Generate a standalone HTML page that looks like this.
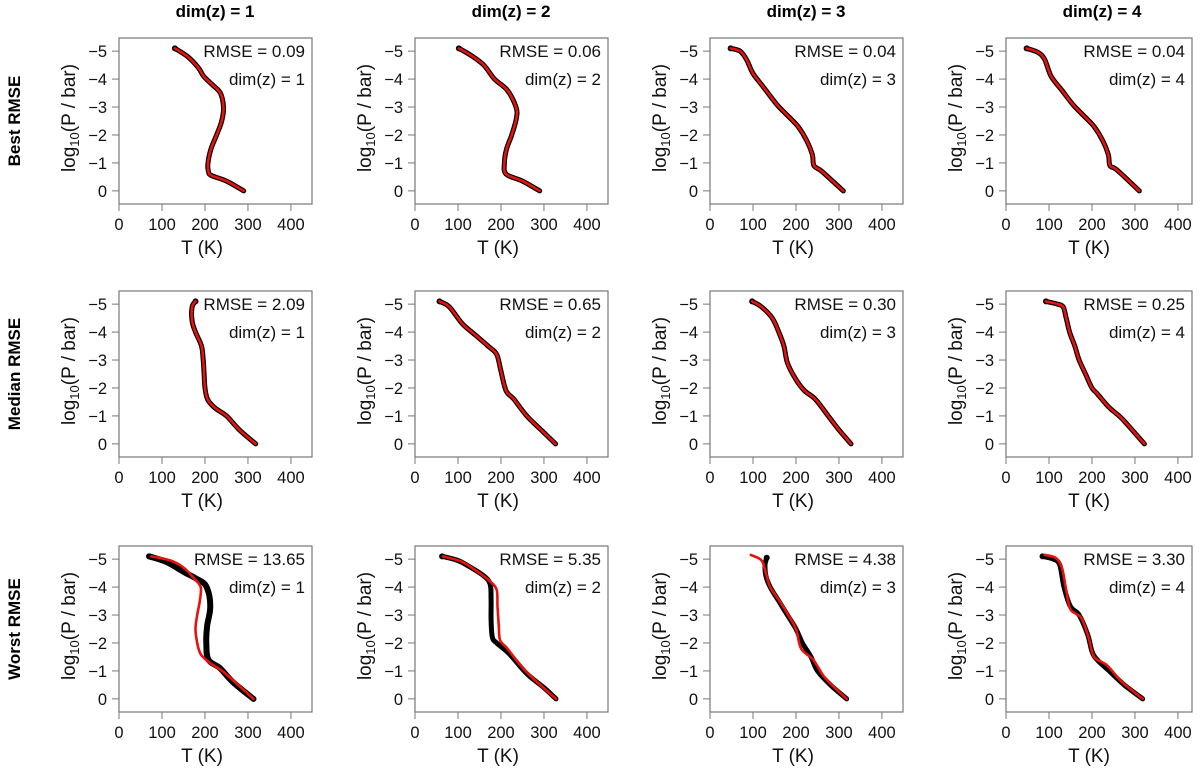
<!DOCTYPE html>
<html><head><meta charset="utf-8"><style>
body{margin:0;background:#fff;}
svg{display:block;font-family:"Liberation Sans",Arial,sans-serif;}
</style></head><body>
<svg id="c" width="1200" height="768" viewBox="0 0 1200 768"></svg>
<script>
const colTitles=["dim(z) = 1","dim(z) = 2","dim(z) = 3","dim(z) = 4"];
const rowTitles=["Best RMSE","Median RMSE","Worst RMSE"];
const rmseVals=[["0.09","0.06","0.04","0.04"],["2.09","0.65","0.30","0.25"],["13.65","5.35","4.38","3.30"]];
const xTicks=[0,100,200,300,400];
const yTicks=[-5,-4,-3,-2,-1,0];
// true profiles (black) as [T, log10 P]
const truthProfiles=[
[[[130,-5.1],[160,-4.8],[185,-4.4],[197,-4.1],[217,-3.8],[236,-3.5],[243,-3.0],[239,-2.5],[227,-2.0],[214,-1.5],[207,-1.0],[208,-0.7],[215,-0.55],[250,-0.35],[290,0]],
 [[102,-5.1],[130,-4.85],[160,-4.5],[185,-4.0],[215,-3.6],[235,-3.0],[236,-2.6],[225,-2.0],[213,-1.5],[208,-1.0],[212,-0.6],[250,-0.35],[290,0]],
 [[48,-5.1],[70,-5.0],[85,-4.7],[100,-4.2],[125,-3.7],[155,-3.1],[180,-2.7],[205,-2.3],[225,-1.8],[238,-1.3],[242,-0.9],[260,-0.7],[310,0]],
 [[48,-5.1],[75,-4.95],[90,-4.7],[105,-4.1],[130,-3.6],[155,-3.1],[180,-2.7],[205,-2.3],[225,-1.8],[238,-1.3],[242,-0.9],[258,-0.75],[310,0]]],
[[[178,-5.1],[170,-4.9],[170,-4.4],[178,-4.0],[192,-3.5],[196,-3.0],[198,-2.5],[200,-2.0],[206,-1.6],[222,-1.3],[250,-1.0],[280,-0.5],[318,0]],
 [[57,-5.1],[80,-4.9],[110,-4.3],[140,-3.9],[170,-3.5],[190,-3.2],[200,-2.6],[212,-1.9],[230,-1.6],[260,-1.0],[300,-0.4],[327,0]],
 [[98,-5.1],[120,-4.9],[145,-4.5],[160,-4.0],[172,-3.5],[180,-2.9],[200,-2.3],[220,-1.9],[245,-1.6],[275,-1.0],[300,-0.5],[328,0]],
 [[93,-5.1],[120,-5.0],[133,-4.9],[140,-4.5],[148,-4.0],[160,-3.5],[170,-3.0],[185,-2.5],[200,-2.0],[212,-1.8],[240,-1.3],[270,-0.9],[322,0]]],
[[[70,-5.1],[110,-4.9],[150,-4.55],[180,-4.3],[200,-4.1],[210,-3.7],[212,-3.2],[205,-2.6],[203,-2.0],[208,-1.4],[235,-1.1],[265,-0.6],[313,0]],
 [[63,-5.1],[100,-4.95],[130,-4.7],[160,-4.4],[175,-4.1],[177,-3.5],[177,-2.8],[180,-2.2],[190,-2.0],[220,-1.6],[260,-0.9],[300,-0.4],[328,0]],
 [[132,-5.05],[128,-4.8],[130,-4.4],[140,-4.0],[160,-3.5],[180,-3.0],[200,-2.5],[215,-2.0],[235,-1.5],[250,-1.0],[280,-0.5],[318,0]],
 [[85,-5.1],[110,-5.0],[125,-4.8],[135,-4.0],[150,-3.3],[170,-3.0],[190,-2.3],[200,-1.7],[212,-1.4],[240,-1.0],[275,-0.5],[318,0]]]
];
// predicted profiles (red); null = same as truth
const predProfiles=[
[null,null,null,null],
[null,null,null,null],
[[[75,-5.1],[120,-4.95],[150,-4.7],[175,-4.3],[190,-4.0],[188,-3.5],[182,-3.0],[178,-2.5],[182,-2.0],[190,-1.6],[210,-1.3],[240,-1.0],[270,-0.6],[313,0]],
 [[65,-5.1],[110,-4.9],[150,-4.5],[175,-4.2],[190,-3.9],[192,-3.3],[195,-2.6],[198,-2.1],[215,-1.8],[240,-1.3],[270,-0.8],[328,0]],
 [[95,-5.15],[120,-4.95],[130,-4.5],[140,-4.0],[162,-3.5],[182,-3.0],[200,-2.5],[212,-1.8],[240,-1.4],[265,-0.8],[290,-0.4],[318,0]],
 [[90,-5.15],[115,-5.05],[130,-4.7],[140,-3.9],[150,-3.2],[175,-2.9],[192,-2.2],[205,-1.5],[235,-1.2],[270,-0.6],[318,0]]]
];
const NS="http://www.w3.org/2000/svg";
const svg=document.getElementById('c');
function mk(t,a,p){const e=document.createElementNS(NS,t);for(const k in a)e.setAttribute(k,a[k]);(p||svg).appendChild(e);return e;}
const colX=[119,415,710,1006], rowY=[38,291,546], W=193, H=166;
const xMin=0,xMax=449,yMin=-5.47,yMax=0.47;
function smooth(pts){let d=`M${pts[0][0]},${pts[0][1]}`;for(let i=0;i<pts.length-1;i++){const p0=pts[Math.max(0,i-1)],p1=pts[i],p2=pts[i+1],p3=pts[Math.min(pts.length-1,i+2)];
const c1=[p1[0]+(p2[0]-p0[0])/6,p1[1]+(p2[1]-p0[1])/6],c2=[p2[0]-(p3[0]-p1[0])/6,p2[1]-(p3[1]-p1[1])/6];d+=` C${c1[0].toFixed(1)},${c1[1].toFixed(1)} ${c2[0].toFixed(1)},${c2[1].toFixed(1)} ${p2[0].toFixed(1)},${p2[1].toFixed(1)}`;}return d;}
colTitles.forEach((t,c)=>{const e=mk('text',{x:colX[c]+96,y:17,'text-anchor':'middle','font-size':17,'font-weight':'bold'});e.textContent=t;

});
rowTitles.forEach((t,r)=>{const cy=rowY[r]+83;const e=mk('text',{x:0,y:0,transform:`translate(20,${cy}) rotate(-90)`,'text-anchor':'middle','font-size':17,'font-weight':'bold'});e.textContent=t;

});
for(let r=0;r<3;r++)for(let c=0;c<4;c++){
 const L=colX[c],T=rowY[r];const w=(c==3)?186:W;
 const g=mk('g',{});
 
 
 const sx=v=>L+(v-xMin)/(xMax-xMin)*W, sy=v=>T+(v-yMin)/(yMax-yMin)*H;
 const clipId=`cl${r}${c}`;const cp=mk('clipPath',{id:clipId},g);mk('rect',{x:L,y:T,width:w,height:H},cp);
 const box=mk('rect',{x:L,y:T,width:w,height:H,fill:'none',stroke:'#777','stroke-width':1.2},g);
 
 
 xTicks.forEach(v=>{const x=sx(v);mk('line',{x1:x,x2:x,y1:T+H,y2:T+H+7,stroke:'#777'},g);
  const t=mk('text',{x:x,y:T+H+26,'text-anchor':'middle','font-size':16.5,fill:'#111'},g);t.textContent=v;
  
  });
 yTicks.forEach(v=>{const y=sy(v);mk('line',{x1:L-7,x2:L,y1:y,y2:y,stroke:'#777'},g);
  const t=mk('text',{x:L-12,y:y+6,'text-anchor':'end','font-size':16.5,fill:'#111'},g);t.textContent=(v<0?'\u2212'+(-v):v);
  
  });
 const xl=mk('text',{x:L+83,y:T+H+50,'text-anchor':'middle','font-size':19,fill:'#111'},g);xl.textContent='T (K)';
 
 
 const yl=mk('text',{transform:`translate(${L-44},${T+80}) rotate(-90)`,'text-anchor':'middle','font-size':19,fill:'#111'},g);
 yl.innerHTML='log<tspan font-size="13" dy="4">10</tspan><tspan dy="-4">(P / bar)</tspan>';
 
 
 const t1=mk('text',{x:L+w-7,y:sy(-5)+6,'text-anchor':'end','font-size':17,fill:'#111'},g);t1.textContent='RMSE = '+rmseVals[r][c];
 
 
 const t2=mk('text',{x:L+w-7,y:sy(-4)+6,'text-anchor':'end','font-size':17,fill:'#111'},g);t2.textContent=colTitles[c];
 
 
 const tp=truthProfiles[r][c].map(p=>[sx(p[0]),sy(p[1])]);
 const pp=(predProfiles[r][c]||truthProfiles[r][c]).map(p=>[sx(p[0]),sy(p[1])]);
 const cg=mk('g',{'clip-path':`url(#${clipId})`},g);
 const bl=mk('path',{d:smooth(tp),fill:'none',stroke:'#000','stroke-width':r==2&&c==0?6:5,'stroke-linecap':'round','stroke-linejoin':'round'},cg);
 
 
 const st=truthProfiles[r][c][0];const dt=mk('circle',{cx:sx(st[0]),cy:sy(st[1]),r:3,fill:'#000'},cg);
 
 
 const rl=mk('path',{d:smooth(pp),fill:'none',stroke:'#e8120c','stroke-width':2.6,'stroke-linecap':'round','stroke-linejoin':'round'},cg);
 
 
}
</script>
</body></html>
